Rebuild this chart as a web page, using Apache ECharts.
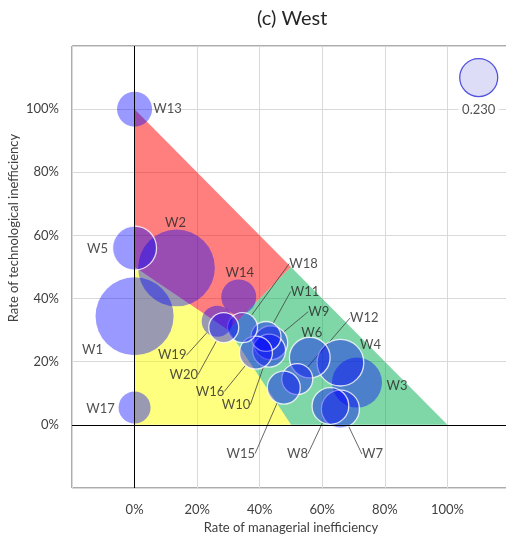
<!DOCTYPE html>
<html>
<head>
<meta charset="utf-8">
<title>(c) West</title>
<script src="https://cdn.jsdelivr.net/npm/echarts@6/dist/echarts.min.js"></script>
<style>
html, body { margin: 0; padding: 0; background: #fff; }
#main { width: 506px; height: 539px; }
</style>
</head>
<body>
<div id="main"></div>
<script>
// regions (rate %, x = managerial, y = technological)
var redRegion = [[0, 100], [50, 50], [30, 30], [0, 50]];
var greenRegion = [[50, 50], [100, 0], [50, 0], [30, 30]];
var yellowRegion = [[0, 0], [50, 0], [30, 30], [0, 50]];

var categories = ["W1", "W2", "W3", "W4", "W5", "W6", "W7", "W8", "W9", "W10",
	"W11", "W12", "W13", "W14", "W15", "W16", "W17", "W18", "W19", "W20"];
var managerialRate = [0, 13.4, 71.1, 65.8, 0, 56, 65.8, 62.6, 43.5, 43,
	42, 52, 0, 33.3, 47.7, 38.8, 0, 34.5, 26.4, 28.5];
var technologicalRate = [34.4, 49.7, 13.4, 19.7, 56, 21.3, 5, 6, 26, 23.5,
	28, 14.5, 100, 40.5, 11.8, 22.9, 5.5, 30.8, 32.8, 30.8];
var bubbleValue = [0.969, 0.937, 0.398, 0.347, 0.308, 0.264, 0.230, 0.215, 0.184, 0.173,
	0.143, 0.153, 0.195, 0.195, 0.173, 0.173, 0.163, 0.143, 0.153, 0.143];

// reference bubble shown top right
var legendBubble = [110, 110, 0.230];

var xTicks = [0, 20, 40, 60, 80, 100];
var yTicks = [0, 20, 40, 60, 80, 100];

// label placement (px from bubble centre)
var labelOffsets = {
	W1: [-42, 34], W2: [-1, -45], W3: [40, 3], W4: [30, -18], W5: [-37, 1],
	W6: [2, -25], W7: [32, 45], W8: [-33, 48], W9: [48, -31], W10: [-33, 54],
	W11: [39, -45], W12: [67, -61], W13: [33, 0], W14: [1, -24], W15: [-43, 66],
	W16: [-46, 39], W17: [-34, 1], W18: [61, -64], W19: [-45, 34], W20: [-40, 47]
};
var leaderNames = ["W7", "W8", "W9", "W10", "W11", "W12", "W15", "W16", "W18", "W19", "W20"];
var outlinedNames = ["W4", "W5", "W6", "W7", "W8", "W9", "W10", "W11", "W12", "W15", "W16", "W18", "W20"];

var fontName = "Lato, 'Open Sans', sans-serif";
var regions = [redRegion, greenRegion, yellowRegion];
var regionColors = ["rgba(255,0,0,0.5)", "rgba(0,176,80,0.5)", "rgba(255,255,0,0.5)"];

function bubbleSize(val) {
	return 38 * Math.sqrt(val[2] / 0.230);
}

function buildBubbles() {
	var list = [];
	for (var i = 0; i < categories.length; i++) {
		var name = categories[i];
		var item = {
			name : name,
			value : [managerialRate[i], technologicalRate[i], bubbleValue[i]],
			labelLine : { show : leaderNames.indexOf(name) >= 0 }
		};
		if (outlinedNames.indexOf(name) >= 0) {
			item.itemStyle = { borderColor : "#ffffff", borderWidth : 1.3 };
		}
		list.push(item);
	}
	return list;
}

function tickLabel(ticks) {
	return function(v) {
		return ticks.indexOf(v) >= 0 ? v + "%" : "";
	};
}

var myChart = echarts.init(document.getElementById("main"));

var option = {
	animation : false,
	title : {
		text : "(c) West",
		left : 252,
		top : 4,
		textStyle : { fontFamily : fontName, fontSize : 20, fontWeight : "normal", color : "#262626" }
	},
	grid : {
		left : 72, top : 46, right : -4, bottom : 51,
		outerBoundsMode : "none",
		containLabel : false,
		show : true, borderColor : "#595959", borderWidth : 1, backgroundColor : "transparent"
	},
	xAxis : {
		type : "value", min : -20, max : 120, interval : 20,
		name : "Rate of managerial inefficiency",
		nameLocation : "middle", nameGap : 33,
		nameTextStyle : { fontFamily : fontName, fontSize : 13, color : "#404040" },
		axisLine : { show : false }, axisTick : { show : false },
		axisLabel : { formatter : tickLabel(xTicks), margin : 15, fontFamily : fontName, fontSize : 13, color : "#404040" },
		splitLine : { lineStyle : { color : "#d9d9d9" } }
	},
	yAxis : {
		type : "value", min : -20, max : 120, interval : 20,
		axisLine : { show : false }, axisTick : { show : false },
		axisLabel : { formatter : tickLabel(yTicks), margin : 13, fontFamily : fontName, fontSize : 13, color : "#404040" },
		splitLine : { lineStyle : { color : "#d9d9d9" } }
	},
	graphic : [{
		type : "text",
		x : 14, y : 228,
		rotation : Math.PI / 2,
		style : {
			text : "Rate of technological inefficiency",
			fontFamily : fontName, fontSize : 13, fill : "#404040",
			align : "center", verticalAlign : "middle"
		}
	}],
	series : [{
		type : "custom",
		z : 1,
		silent : true,
		data : regions.map(function(r, i) { return [i]; }),
		renderItem : function(params, api) {
			var pts = regions[params.dataIndex].map(function(p) { return api.coord(p); });
			return {
				type : "polygon",
				shape : { points : pts },
				style : { fill : regionColors[params.dataIndex], stroke : null }
			};
		}
	}, {
		type : "line",
		z : 2,
		data : [],
		markLine : {
			silent : true,
			symbol : "none",
			label : { show : false },
			lineStyle : { color : "#000", type : "solid", width : 1 },
			data : [{ xAxis : 0 }, { yAxis : 0 }]
		}
	}, {
		type : "scatter",
		z : 3,
		data : buildBubbles(),
		symbolSize : bubbleSize,
		itemStyle : { color : "rgba(0,0,255,0.5)" },
		label : {
			show : true, position : "inside", formatter : "{b}",
			fontFamily : fontName, fontSize : 13, color : "#262626"
		},
		labelLine : { show : false, lineStyle : { color : "#404040", width : 0.8 } },
		labelLayout : function(params) {
			var off = labelOffsets[categories[params.dataIndex]];
			var r = params.rect;
			return {
				x : r.x + r.width / 2 + off[0],
				y : r.y + r.height / 2 + off[1],
				align : "center",
				verticalAlign : "middle"
			};
		}
	}, {
		type : "scatter",
		z : 3,
		data : [legendBubble],
		symbolSize : bubbleSize,
		itemStyle : {
			color : "#d4d4f5",
			borderColor : "#2a2ad8",
			borderWidth : 1.3
		},
		label : {
			show : true, position : "bottom", distance : 5,
			formatter : function(p) { return p.value[2].toFixed(3); },
			fontFamily : fontName, fontSize : 13, color : "#262626",
			backgroundColor : "#fff", padding : [1, 4]
		}
	}]
};

myChart.setOption(option);
</script>
</body>
</html>
